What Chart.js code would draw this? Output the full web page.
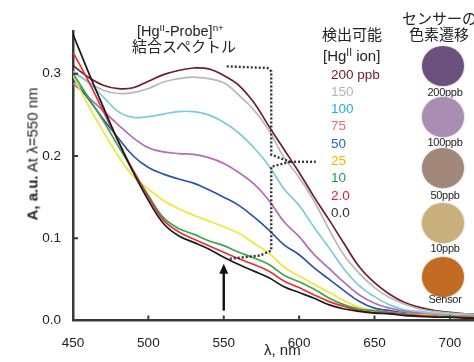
<!DOCTYPE html>
<html>
<head>
<meta charset="utf-8">
<script src="https://cdn.jsdelivr.net/npm/chart.js@4.4.1/dist/chart.umd.min.js"></script>
<style>
  html, body { margin: 0; padding: 0; background: #fff; }
  #wrap { position: relative; width: 474px; height: 362px; overflow: hidden;
          font-family: "Liberation Sans", Arial, sans-serif; color: #222; }
  #chart { position: absolute; left: 0; top: 0; }
  .t { position: absolute; white-space: nowrap; }
  .jp { font-family: "Noto Sans CJK JP", "Liberation Sans", sans-serif; }
  sup { font-size: 68%; vertical-align: 0; position: relative; top: -0.5em; }
  .dot { position: absolute; width: 42px; height: 40px; border-radius: 50%;
         box-shadow: 0 0 1px 1px rgba(220,210,200,0.7); }
  .cap { position: absolute; font-size: 11px; letter-spacing: -0.3px; width: 60px; text-align: center; }
</style>
</head>
<body>
<div id="wrap">
  <canvas id="chart" width="474" height="362"></canvas>
</div>
<script>
// wavelength, nm
const wavelengths = [450,460,470,480,490,500,510,520,530,540,550,560,570,580,590,600,610,620,630,640,650,660,670,680,690,700,710,720];

// absorbance for each Hg(II) concentration
const s200 = [.310,.296,.286,.282,.283,.291,.299,.304,.307,.306,.298,.286,.265,.236,.208,.180,.150,.122,.093,.065,.046,.032,.022,.016,.012,.010,.008,.008];
const s150 = [.302,.290,.280,.276,.277,.282,.290,.294,.296,.294,.289,.274,.256,.231,.198,.174,.145,.110,.079,.057,.040,.028,.020,.014,.011,.009,.008,.007];
const s100 = [.303,.290,.272,.254,.247,.248,.251,.254,.254,.250,.241,.228,.210,.188,.160,.140,.113,.088,.062,.042,.029,.019,.013,.011,.009,.007,.006,.006];
const s75  = [.288,.272,.255,.238,.222,.210,.205,.203,.202,.198,.191,.180,.166,.146,.120,.102,.080,.063,.046,.031,.021,.015,.011,.009,.007,.006,.005,.005];
const s50  = [.294,.270,.245,.222,.200,.186,.178,.172,.167,.159,.150,.140,.126,.110,.092,.080,.064,.050,.036,.023,.015,.012,.009,.007,.006,.005,.005,.004];
const s25  = [.298,.262,.230,.200,.175,.160,.146,.136,.128,.121,.114,.106,.094,.082,.065,.054,.044,.034,.024,.016,.012,.010,.008,.007,.006,.005,.005,.004];
const s10  = [.300,.272,.243,.212,.182,.152,.125,.112,.105,.097,.091,.083,.076,.068,.055,.047,.038,.027,.019,.014,.012,.010,.008,.006,.005,.005,.004,.004];
const s2   = [.326,.292,.255,.218,.182,.150,.122,.108,.099,.091,.083,.075,.068,.060,.048,.040,.031,.023,.017,.012,.010,.009,.007,.006,.005,.004,.004,.003];
const s0   = [.348,.303,.260,.218,.180,.146,.118,.103,.095,.087,.077,.068,.060,.052,.041,.034,.027,.019,.014,.011,.009,.008,.006,.005,.004,.004,.003,.003];

const seriesData   = [s200, s150, s100, s75, s50, s25, s10, s2, s0];
const concLabels   = ['200 ppb','150','100','75','50','25','10','2.0','0.0'];
const lineColors   = ['#6e1e2a','#b8b8b8','#7ccbd8','#b46cb8','#2a55a8','#eee63a','#3aa848','#e6303a','#1a1a1a'];
const labelColors  = ['#6a1a24','#b4b4b4','#22b0e2','#f0667e','#2166c4','#ffb000','#1ea050','#ee2030','#333333'];

const xTicks = [450,500,550,600,650,700];
const yTicks = [0,0.1,0.2,0.3];

// sensor colour swatches
const swatchLabels = ['200ppb','100ppb','50ppb','10ppb','Sensor'];
const swatchColors = ['#6b5080','#a98db2','#a28679','#c9b07a','#c26b22'];

// dotted bracket and arrow, in data units (λ, A)
const bracketTop = [[552,.309],[579,.307],[581.5,.303],[581.5,.2015],[594,.193]];
const bracketBottom = [[594,.193],[581.5,.187],[581.5,.085],[574,.079],[554,.075]];
const bracketRight = [[594,.193],[611,.193]];
const arrowLine = [[550,.012],[550,.064]];

const wrap = document.getElementById('wrap');
function addText(html, x, y, size, color, cls) {
  const d = document.createElement('div');
  d.className = 't ' + (cls || '');
  d.style.left = x + 'px';
  d.style.top = y + 'px';
  d.style.fontSize = size + 'px';
  d.style.lineHeight = size + 'px';
  if (color) d.style.color = color;
  d.innerHTML = html;
  wrap.appendChild(d);
  return d;
}

// annotations
addText('[Hg<sup>II</sup>-Probe]<sup>n+</sup>', 137, 24, 14.5, '#222');
addText('結合スペクトル', 132, 38, 15, '#222', 'jp');
addText('検出可能', 322, 26, 15, '#222', 'jp');
addText('[Hg<sup>II</sup> ion]', 323, 48, 15, '#222');
addText('センサーの', 402, 10, 15, '#222', 'jp');
addText('色素遷移', 409, 26, 15, '#222', 'jp');
addText('λ, nm', 264, 342, 15, '#222');

for (let i = 0; i < concLabels.length; i++) {
  addText(concLabels[i], 331, 67.5 + i * 17.3, 13.5, labelColors[i]);
}

const yt = addText('<b>A, a.u.</b> At λ=550 nm', 32, 154, 15, '#222');
yt.style.transform = 'translate(-50%,-50%) rotate(-90deg)';

const swatchY = [66, 117, 168, 223, 277];
const capY = [86, 136, 189, 242, 293];
for (let i = 0; i < swatchLabels.length; i++) {
  const c = document.createElement('div');
  c.className = 'dot';
  c.style.left = (443 - 21) + 'px';
  c.style.top = (swatchY[i] - 20) + 'px';
  c.style.background = swatchColors[i];
  wrap.appendChild(c);
  const l = document.createElement('div');
  l.className = 'cap';
  l.style.left = (445 - 30) + 'px';
  l.style.top = capY[i] + 'px';
  l.textContent = swatchLabels[i];
  wrap.appendChild(l);
}

const datasets = seriesData.map((s, i) => ({
  label: concLabels[i],
  data: wavelengths.map((w, j) => ({ x: w, y: s[j] })),
  borderColor: lineColors[i],
  borderWidth: 1.7,
  pointRadius: 0,
  tension: 0.4,
  fill: false
})).reverse();

const decorPlugin = {
  id: 'decor',
  afterDatasetsDraw(chart) {
    const ctx = chart.ctx, xs = chart.scales.x, ys = chart.scales.y;
    const px = p => [xs.getPixelForValue(p[0]), ys.getPixelForValue(p[1])];
    ctx.save();
    // inward ticks
    ctx.strokeStyle = '#3a3a3a';
    ctx.lineWidth = 2;
    const b = chart.chartArea.bottom, l = chart.chartArea.left;
    xTicks.slice(1).forEach(v => {
      const x = xs.getPixelForValue(v);
      ctx.beginPath(); ctx.moveTo(x, b); ctx.lineTo(x, b - 5); ctx.stroke();
    });
    yTicks.slice(1).forEach(v => {
      const y = ys.getPixelForValue(v);
      ctx.beginPath(); ctx.moveTo(l, y); ctx.lineTo(l + 5, y); ctx.stroke();
    });
    // dotted bracket
    ctx.strokeStyle = '#333';
    ctx.lineWidth = 2.4;
    ctx.setLineDash([2, 2]);
    [bracketTop, bracketBottom, bracketRight].forEach(path => {
      ctx.beginPath();
      path.forEach((p, k) => {
        const q = px(p);
        if (k === 0) ctx.moveTo(q[0], q[1]); else ctx.lineTo(q[0], q[1]);
      });
      ctx.stroke();
    });
    // arrow
    ctx.setLineDash([]);
    ctx.strokeStyle = '#111';
    ctx.fillStyle = '#111';
    ctx.lineWidth = 2.4;
    const a0 = px(arrowLine[0]), a1 = px(arrowLine[1]);
    ctx.beginPath(); ctx.moveTo(a0[0], a0[1]); ctx.lineTo(a1[0], a1[1] + 4); ctx.stroke();
    ctx.beginPath();
    ctx.moveTo(a1[0], a1[1] - 4);
    ctx.lineTo(a1[0] - 4.5, a1[1] + 6);
    ctx.lineTo(a1[0] + 4.5, a1[1] + 6);
    ctx.closePath(); ctx.fill();
    ctx.restore();
  }
};

new Chart(document.getElementById('chart'), {
  type: 'line',
  data: { datasets: datasets },
  options: {
    responsive: false,
    animation: false,
    layout: { padding: { top: 31, right: 0, left: 0, bottom: 0 } },
    plugins: { legend: { display: false }, tooltip: { enabled: false } },
    scales: {
      x: {
        type: 'linear',
        min: 450,
        max: 716,
        afterBuildTicks: s => { s.ticks = xTicks.map(v => ({ value: v })); },
        afterFit: s => { s.height = 41.5; },
        grid: { display: false },
        border: { display: true, color: '#3a3a3a', width: 2.5 },
        ticks: { padding: 7, color: '#222', font: { family: 'Liberation Sans', size: 13.5 }, maxRotation: 0 }
      },
      y: {
        min: 0,
        max: 0.352,
        afterBuildTicks: s => { s.ticks = yTicks.map(v => ({ value: v })); },
        afterFit: s => { s.width = 73; },
        grid: { display: false },
        border: { display: true, color: '#3a3a3a', width: 2.5 },
        ticks: { padding: 4, color: '#222', font: { family: 'Liberation Sans', size: 13.5 }, callback: v => v.toFixed(1) }
      }
    }
  },
  plugins: [decorPlugin]
});
</script>
</body>
</html>
